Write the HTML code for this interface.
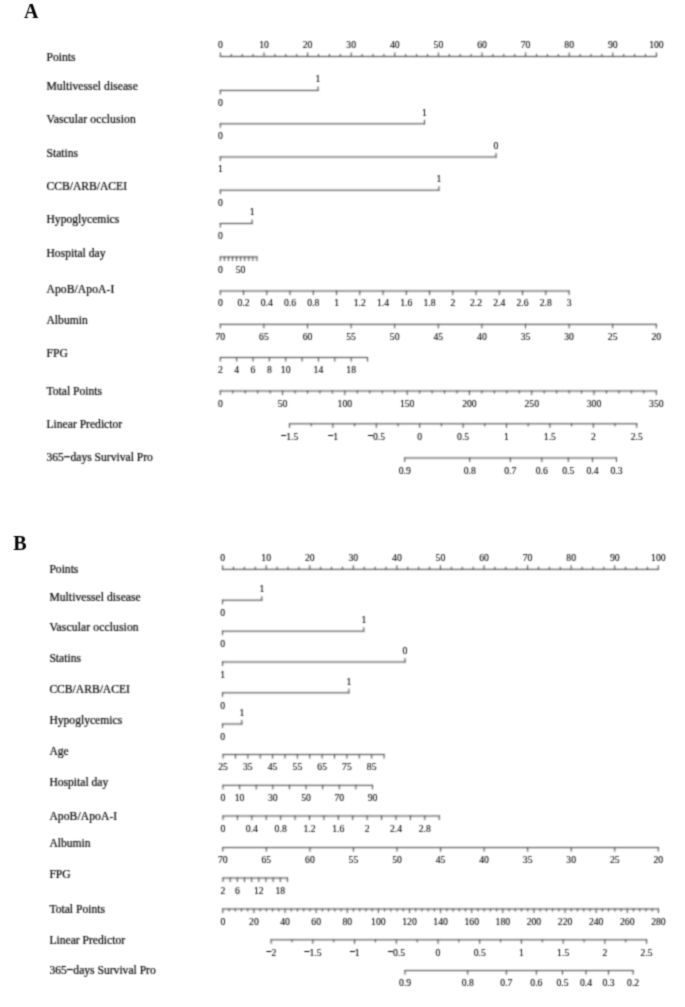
<!DOCTYPE html>
<html><head><meta charset="utf-8"><title>Nomogram</title>
<style>
html,body{margin:0;padding:0;background:#fff;}
body{width:685px;height:1007px;overflow:hidden;}
svg{display:block;}
#w{width:685px;height:1007px;}
line{stroke:#3a3a3a;stroke-width:1.0;stroke-linecap:square;}
text{font-family:"Liberation Serif",serif;fill:#000;}
.l{font-size:11.6px;stroke:#000;stroke-width:0.2px;}
.n{font-size:9.7px;stroke:#000;stroke-width:0.1px;}
.m{stroke:#000;stroke-width:0.45px;}
.mr{fill:#000;}
.h{font-size:20px;font-weight:bold;fill:#000;}
</style></head>
<body><div id="w">
<svg width="685" height="1007" viewBox="0 0 685 1007">
<defs><filter id="bl" filterUnits="userSpaceOnUse" x="0" y="0" width="685" height="1007"><feConvolveMatrix order="5" kernelMatrix="0.00087 0.00695 0.01388 0.00695 0.00087 0.00695 0.05540 0.11068 0.05540 0.00695 0.01388 0.11068 0.22111 0.11068 0.01388 0.00695 0.05540 0.11068 0.05540 0.00695 0.00087 0.00695 0.01388 0.00695 0.00087" edgeMode="none" preserveAlpha="false"/></filter><filter id="bl2" filterUnits="userSpaceOnUse" x="0" y="0" width="685" height="1007"><feConvolveMatrix order="5" kernelMatrix="0.00001 0.00042 0.00170 0.00042 0.00001 0.00042 0.02740 0.10988 0.02740 0.00042 0.00170 0.10988 0.44065 0.10988 0.00170 0.00042 0.02740 0.10988 0.02740 0.00042 0.00001 0.00042 0.00170 0.00042 0.00001" edgeMode="none" preserveAlpha="false"/></filter><filter id="bl3" filterUnits="userSpaceOnUse" x="0" y="0" width="685" height="1007"><feConvolveMatrix order="5" kernelMatrix="0.00009 0.00198 0.00548 0.00198 0.00009 0.00198 0.04220 0.11707 0.04220 0.00198 0.00548 0.11707 0.32480 0.11707 0.00548 0.00198 0.04220 0.11707 0.04220 0.00198 0.00009 0.00198 0.00548 0.00198 0.00009" edgeMode="none" preserveAlpha="false"/></filter></defs>
<rect width="685" height="1007" fill="#fff"/>
<g filter="url(#bl)">
<line x1="220.4" y1="56.5" x2="656.4" y2="56.5"/>
<line x1="220.4" y1="56.5" x2="220.4" y2="53"/>
<line x1="264" y1="56.5" x2="264" y2="53"/>
<line x1="307.6" y1="56.5" x2="307.6" y2="53"/>
<line x1="351.2" y1="56.5" x2="351.2" y2="53"/>
<line x1="394.8" y1="56.5" x2="394.8" y2="53"/>
<line x1="438.4" y1="56.5" x2="438.4" y2="53"/>
<line x1="482" y1="56.5" x2="482" y2="53"/>
<line x1="525.6" y1="56.5" x2="525.6" y2="53"/>
<line x1="569.2" y1="56.5" x2="569.2" y2="53"/>
<line x1="612.8" y1="56.5" x2="612.8" y2="53"/>
<line x1="656.4" y1="56.5" x2="656.4" y2="53"/>
<line x1="231.3" y1="56.5" x2="231.3" y2="54.5"/>
<line x1="242.2" y1="56.5" x2="242.2" y2="54.5"/>
<line x1="253.1" y1="56.5" x2="253.1" y2="54.5"/>
<line x1="274.9" y1="56.5" x2="274.9" y2="54.5"/>
<line x1="285.8" y1="56.5" x2="285.8" y2="54.5"/>
<line x1="296.7" y1="56.5" x2="296.7" y2="54.5"/>
<line x1="318.5" y1="56.5" x2="318.5" y2="54.5"/>
<line x1="329.4" y1="56.5" x2="329.4" y2="54.5"/>
<line x1="340.3" y1="56.5" x2="340.3" y2="54.5"/>
<line x1="362.1" y1="56.5" x2="362.1" y2="54.5"/>
<line x1="373" y1="56.5" x2="373" y2="54.5"/>
<line x1="383.9" y1="56.5" x2="383.9" y2="54.5"/>
<line x1="405.7" y1="56.5" x2="405.7" y2="54.5"/>
<line x1="416.6" y1="56.5" x2="416.6" y2="54.5"/>
<line x1="427.5" y1="56.5" x2="427.5" y2="54.5"/>
<line x1="449.3" y1="56.5" x2="449.3" y2="54.5"/>
<line x1="460.2" y1="56.5" x2="460.2" y2="54.5"/>
<line x1="471.1" y1="56.5" x2="471.1" y2="54.5"/>
<line x1="492.9" y1="56.5" x2="492.9" y2="54.5"/>
<line x1="503.8" y1="56.5" x2="503.8" y2="54.5"/>
<line x1="514.7" y1="56.5" x2="514.7" y2="54.5"/>
<line x1="536.5" y1="56.5" x2="536.5" y2="54.5"/>
<line x1="547.4" y1="56.5" x2="547.4" y2="54.5"/>
<line x1="558.3" y1="56.5" x2="558.3" y2="54.5"/>
<line x1="580.1" y1="56.5" x2="580.1" y2="54.5"/>
<line x1="591" y1="56.5" x2="591" y2="54.5"/>
<line x1="601.9" y1="56.5" x2="601.9" y2="54.5"/>
<line x1="623.7" y1="56.5" x2="623.7" y2="54.5"/>
<line x1="634.6" y1="56.5" x2="634.6" y2="54.5"/>
<line x1="645.5" y1="56.5" x2="645.5" y2="54.5"/>
<line x1="220.3" y1="90.4" x2="318" y2="90.4"/>
<line x1="220.3" y1="90.4" x2="220.3" y2="93.9"/>
<line x1="318" y1="90.4" x2="318" y2="86.9"/>
<line x1="220.3" y1="123.8" x2="424.5" y2="123.8"/>
<line x1="220.3" y1="123.8" x2="220.3" y2="127.3"/>
<line x1="424.5" y1="123.8" x2="424.5" y2="120.3"/>
<line x1="220.3" y1="157" x2="496" y2="157"/>
<line x1="220.3" y1="157" x2="220.3" y2="160.5"/>
<line x1="496" y1="157" x2="496" y2="153.5"/>
<line x1="220.3" y1="190.2" x2="438.9" y2="190.2"/>
<line x1="220.3" y1="190.2" x2="220.3" y2="193.7"/>
<line x1="438.9" y1="190.2" x2="438.9" y2="186.7"/>
<line x1="220.3" y1="223.5" x2="252.1" y2="223.5"/>
<line x1="220.3" y1="223.5" x2="220.3" y2="227"/>
<line x1="252.1" y1="223.5" x2="252.1" y2="220"/>
<line x1="220.3" y1="257" x2="256.88" y2="257"/>
<line x1="220.3" y1="257" x2="220.3" y2="260.5"/>
<line x1="224.37" y1="257" x2="224.37" y2="260.5"/>
<line x1="228.43" y1="257" x2="228.43" y2="260.5"/>
<line x1="232.5" y1="257" x2="232.5" y2="260.5"/>
<line x1="236.56" y1="257" x2="236.56" y2="260.5"/>
<line x1="240.62" y1="257" x2="240.62" y2="260.5"/>
<line x1="244.69" y1="257" x2="244.69" y2="260.5"/>
<line x1="248.75" y1="257" x2="248.75" y2="260.5"/>
<line x1="252.82" y1="257" x2="252.82" y2="260.5"/>
<line x1="256.88" y1="257" x2="256.88" y2="260.5"/>
<line x1="220.3" y1="291" x2="569.05" y2="291"/>
<line x1="220.3" y1="291" x2="220.3" y2="294.5"/>
<line x1="243.55" y1="291" x2="243.55" y2="294.5"/>
<line x1="266.8" y1="291" x2="266.8" y2="294.5"/>
<line x1="290.05" y1="291" x2="290.05" y2="294.5"/>
<line x1="313.3" y1="291" x2="313.3" y2="294.5"/>
<line x1="336.55" y1="291" x2="336.55" y2="294.5"/>
<line x1="359.8" y1="291" x2="359.8" y2="294.5"/>
<line x1="383.05" y1="291" x2="383.05" y2="294.5"/>
<line x1="406.3" y1="291" x2="406.3" y2="294.5"/>
<line x1="429.55" y1="291" x2="429.55" y2="294.5"/>
<line x1="452.8" y1="291" x2="452.8" y2="294.5"/>
<line x1="476.05" y1="291" x2="476.05" y2="294.5"/>
<line x1="499.3" y1="291" x2="499.3" y2="294.5"/>
<line x1="522.55" y1="291" x2="522.55" y2="294.5"/>
<line x1="545.8" y1="291" x2="545.8" y2="294.5"/>
<line x1="569.05" y1="291" x2="569.05" y2="294.5"/>
<line x1="220.3" y1="324.3" x2="656.3" y2="324.3"/>
<line x1="656.3" y1="324.3" x2="656.3" y2="327.8"/>
<line x1="612.7" y1="324.3" x2="612.7" y2="327.8"/>
<line x1="569.1" y1="324.3" x2="569.1" y2="327.8"/>
<line x1="525.5" y1="324.3" x2="525.5" y2="327.8"/>
<line x1="481.9" y1="324.3" x2="481.9" y2="327.8"/>
<line x1="438.3" y1="324.3" x2="438.3" y2="327.8"/>
<line x1="394.7" y1="324.3" x2="394.7" y2="327.8"/>
<line x1="351.1" y1="324.3" x2="351.1" y2="327.8"/>
<line x1="307.5" y1="324.3" x2="307.5" y2="327.8"/>
<line x1="263.9" y1="324.3" x2="263.9" y2="327.8"/>
<line x1="220.3" y1="324.3" x2="220.3" y2="327.8"/>
<line x1="220.3" y1="357.5" x2="367.5" y2="357.5"/>
<line x1="220.3" y1="357.5" x2="220.3" y2="361"/>
<line x1="236.66" y1="357.5" x2="236.66" y2="361"/>
<line x1="253.01" y1="357.5" x2="253.01" y2="361"/>
<line x1="269.37" y1="357.5" x2="269.37" y2="361"/>
<line x1="285.72" y1="357.5" x2="285.72" y2="361"/>
<line x1="302.08" y1="357.5" x2="302.08" y2="361"/>
<line x1="318.44" y1="357.5" x2="318.44" y2="361"/>
<line x1="334.79" y1="357.5" x2="334.79" y2="361"/>
<line x1="351.15" y1="357.5" x2="351.15" y2="361"/>
<line x1="367.5" y1="357.5" x2="367.5" y2="361"/>
<line x1="220.3" y1="391" x2="656.3" y2="391"/>
<line x1="220.3" y1="391" x2="220.3" y2="394.5"/>
<line x1="282.59" y1="391" x2="282.59" y2="394.5"/>
<line x1="344.87" y1="391" x2="344.87" y2="394.5"/>
<line x1="407.16" y1="391" x2="407.16" y2="394.5"/>
<line x1="469.44" y1="391" x2="469.44" y2="394.5"/>
<line x1="531.73" y1="391" x2="531.73" y2="394.5"/>
<line x1="594.01" y1="391" x2="594.01" y2="394.5"/>
<line x1="656.3" y1="391" x2="656.3" y2="394.5"/>
<line x1="232.76" y1="391" x2="232.76" y2="393"/>
<line x1="245.21" y1="391" x2="245.21" y2="393"/>
<line x1="257.67" y1="391" x2="257.67" y2="393"/>
<line x1="270.13" y1="391" x2="270.13" y2="393"/>
<line x1="295.04" y1="391" x2="295.04" y2="393"/>
<line x1="307.5" y1="391" x2="307.5" y2="393"/>
<line x1="319.96" y1="391" x2="319.96" y2="393"/>
<line x1="332.41" y1="391" x2="332.41" y2="393"/>
<line x1="357.33" y1="391" x2="357.33" y2="393"/>
<line x1="369.79" y1="391" x2="369.79" y2="393"/>
<line x1="382.24" y1="391" x2="382.24" y2="393"/>
<line x1="394.7" y1="391" x2="394.7" y2="393"/>
<line x1="419.61" y1="391" x2="419.61" y2="393"/>
<line x1="432.07" y1="391" x2="432.07" y2="393"/>
<line x1="444.53" y1="391" x2="444.53" y2="393"/>
<line x1="456.99" y1="391" x2="456.99" y2="393"/>
<line x1="481.9" y1="391" x2="481.9" y2="393"/>
<line x1="494.36" y1="391" x2="494.36" y2="393"/>
<line x1="506.81" y1="391" x2="506.81" y2="393"/>
<line x1="519.27" y1="391" x2="519.27" y2="393"/>
<line x1="544.19" y1="391" x2="544.19" y2="393"/>
<line x1="556.64" y1="391" x2="556.64" y2="393"/>
<line x1="569.1" y1="391" x2="569.1" y2="393"/>
<line x1="581.56" y1="391" x2="581.56" y2="393"/>
<line x1="606.47" y1="391" x2="606.47" y2="393"/>
<line x1="618.93" y1="391" x2="618.93" y2="393"/>
<line x1="631.39" y1="391" x2="631.39" y2="393"/>
<line x1="643.84" y1="391" x2="643.84" y2="393"/>
<line x1="289.5" y1="423.8" x2="636.7" y2="423.8"/>
<line x1="289.5" y1="423.8" x2="289.5" y2="427.3"/>
<line x1="332.9" y1="423.8" x2="332.9" y2="427.3"/>
<line x1="376.3" y1="423.8" x2="376.3" y2="427.3"/>
<line x1="419.7" y1="423.8" x2="419.7" y2="427.3"/>
<line x1="463.1" y1="423.8" x2="463.1" y2="427.3"/>
<line x1="506.5" y1="423.8" x2="506.5" y2="427.3"/>
<line x1="549.9" y1="423.8" x2="549.9" y2="427.3"/>
<line x1="593.3" y1="423.8" x2="593.3" y2="427.3"/>
<line x1="636.7" y1="423.8" x2="636.7" y2="427.3"/>
<line x1="311.2" y1="423.8" x2="311.2" y2="425.8"/>
<line x1="354.6" y1="423.8" x2="354.6" y2="425.8"/>
<line x1="398" y1="423.8" x2="398" y2="425.8"/>
<line x1="441.4" y1="423.8" x2="441.4" y2="425.8"/>
<line x1="484.8" y1="423.8" x2="484.8" y2="425.8"/>
<line x1="528.2" y1="423.8" x2="528.2" y2="425.8"/>
<line x1="571.6" y1="423.8" x2="571.6" y2="425.8"/>
<line x1="615" y1="423.8" x2="615" y2="425.8"/>
<line x1="404.7" y1="458" x2="616.5" y2="458"/>
<line x1="404.7" y1="458" x2="404.7" y2="461.5"/>
<line x1="469.7" y1="458" x2="469.7" y2="461.5"/>
<line x1="510.3" y1="458" x2="510.3" y2="461.5"/>
<line x1="541.8" y1="458" x2="541.8" y2="461.5"/>
<line x1="568.3" y1="458" x2="568.3" y2="461.5"/>
<line x1="592.5" y1="458" x2="592.5" y2="461.5"/>
<line x1="616.5" y1="458" x2="616.5" y2="461.5"/>
<line x1="222.6" y1="569.3" x2="658.3" y2="569.3"/>
<line x1="222.6" y1="569.3" x2="222.6" y2="565.8"/>
<line x1="266.17" y1="569.3" x2="266.17" y2="565.8"/>
<line x1="309.74" y1="569.3" x2="309.74" y2="565.8"/>
<line x1="353.31" y1="569.3" x2="353.31" y2="565.8"/>
<line x1="396.88" y1="569.3" x2="396.88" y2="565.8"/>
<line x1="440.45" y1="569.3" x2="440.45" y2="565.8"/>
<line x1="484.02" y1="569.3" x2="484.02" y2="565.8"/>
<line x1="527.59" y1="569.3" x2="527.59" y2="565.8"/>
<line x1="571.16" y1="569.3" x2="571.16" y2="565.8"/>
<line x1="614.73" y1="569.3" x2="614.73" y2="565.8"/>
<line x1="658.3" y1="569.3" x2="658.3" y2="565.8"/>
<line x1="233.49" y1="569.3" x2="233.49" y2="567.3"/>
<line x1="244.38" y1="569.3" x2="244.38" y2="567.3"/>
<line x1="255.28" y1="569.3" x2="255.28" y2="567.3"/>
<line x1="277.06" y1="569.3" x2="277.06" y2="567.3"/>
<line x1="287.95" y1="569.3" x2="287.95" y2="567.3"/>
<line x1="298.85" y1="569.3" x2="298.85" y2="567.3"/>
<line x1="320.63" y1="569.3" x2="320.63" y2="567.3"/>
<line x1="331.52" y1="569.3" x2="331.52" y2="567.3"/>
<line x1="342.42" y1="569.3" x2="342.42" y2="567.3"/>
<line x1="364.2" y1="569.3" x2="364.2" y2="567.3"/>
<line x1="375.1" y1="569.3" x2="375.1" y2="567.3"/>
<line x1="385.99" y1="569.3" x2="385.99" y2="567.3"/>
<line x1="407.77" y1="569.3" x2="407.77" y2="567.3"/>
<line x1="418.66" y1="569.3" x2="418.66" y2="567.3"/>
<line x1="429.56" y1="569.3" x2="429.56" y2="567.3"/>
<line x1="451.34" y1="569.3" x2="451.34" y2="567.3"/>
<line x1="462.24" y1="569.3" x2="462.24" y2="567.3"/>
<line x1="473.13" y1="569.3" x2="473.13" y2="567.3"/>
<line x1="494.91" y1="569.3" x2="494.91" y2="567.3"/>
<line x1="505.81" y1="569.3" x2="505.81" y2="567.3"/>
<line x1="516.7" y1="569.3" x2="516.7" y2="567.3"/>
<line x1="538.48" y1="569.3" x2="538.48" y2="567.3"/>
<line x1="549.38" y1="569.3" x2="549.38" y2="567.3"/>
<line x1="560.27" y1="569.3" x2="560.27" y2="567.3"/>
<line x1="582.05" y1="569.3" x2="582.05" y2="567.3"/>
<line x1="592.95" y1="569.3" x2="592.95" y2="567.3"/>
<line x1="603.84" y1="569.3" x2="603.84" y2="567.3"/>
<line x1="625.62" y1="569.3" x2="625.62" y2="567.3"/>
<line x1="636.51" y1="569.3" x2="636.51" y2="567.3"/>
<line x1="647.41" y1="569.3" x2="647.41" y2="567.3"/>
<line x1="222.6" y1="600.2" x2="261.8" y2="600.2"/>
<line x1="222.6" y1="600.2" x2="222.6" y2="603.7"/>
<line x1="261.8" y1="600.2" x2="261.8" y2="596.7"/>
<line x1="222.6" y1="631.2" x2="363.8" y2="631.2"/>
<line x1="222.6" y1="631.2" x2="222.6" y2="634.7"/>
<line x1="363.8" y1="631.2" x2="363.8" y2="627.7"/>
<line x1="222.6" y1="662" x2="405" y2="662"/>
<line x1="222.6" y1="662" x2="222.6" y2="665.5"/>
<line x1="405" y1="662" x2="405" y2="658.5"/>
<line x1="222.6" y1="692.8" x2="348.9" y2="692.8"/>
<line x1="222.6" y1="692.8" x2="222.6" y2="696.3"/>
<line x1="348.9" y1="692.8" x2="348.9" y2="689.3"/>
<line x1="222.6" y1="724" x2="241.8" y2="724"/>
<line x1="222.6" y1="724" x2="222.6" y2="727.5"/>
<line x1="241.8" y1="724" x2="241.8" y2="720.5"/>
<line x1="223.1" y1="754.5" x2="384.04" y2="754.5"/>
<line x1="223.1" y1="754.5" x2="223.1" y2="758"/>
<line x1="235.48" y1="754.5" x2="235.48" y2="758"/>
<line x1="247.86" y1="754.5" x2="247.86" y2="758"/>
<line x1="260.24" y1="754.5" x2="260.24" y2="758"/>
<line x1="272.62" y1="754.5" x2="272.62" y2="758"/>
<line x1="285" y1="754.5" x2="285" y2="758"/>
<line x1="297.38" y1="754.5" x2="297.38" y2="758"/>
<line x1="309.76" y1="754.5" x2="309.76" y2="758"/>
<line x1="322.14" y1="754.5" x2="322.14" y2="758"/>
<line x1="334.52" y1="754.5" x2="334.52" y2="758"/>
<line x1="346.9" y1="754.5" x2="346.9" y2="758"/>
<line x1="359.28" y1="754.5" x2="359.28" y2="758"/>
<line x1="371.66" y1="754.5" x2="371.66" y2="758"/>
<line x1="384.04" y1="754.5" x2="384.04" y2="758"/>
<line x1="223" y1="785.3" x2="372.49" y2="785.3"/>
<line x1="223" y1="785.3" x2="223" y2="788.8"/>
<line x1="239.61" y1="785.3" x2="239.61" y2="788.8"/>
<line x1="256.22" y1="785.3" x2="256.22" y2="788.8"/>
<line x1="272.83" y1="785.3" x2="272.83" y2="788.8"/>
<line x1="289.44" y1="785.3" x2="289.44" y2="788.8"/>
<line x1="306.05" y1="785.3" x2="306.05" y2="788.8"/>
<line x1="322.66" y1="785.3" x2="322.66" y2="788.8"/>
<line x1="339.27" y1="785.3" x2="339.27" y2="788.8"/>
<line x1="355.88" y1="785.3" x2="355.88" y2="788.8"/>
<line x1="372.49" y1="785.3" x2="372.49" y2="788.8"/>
<line x1="223" y1="816" x2="439.21" y2="816"/>
<line x1="223" y1="816" x2="223" y2="819.5"/>
<line x1="237.41" y1="816" x2="237.41" y2="819.5"/>
<line x1="251.83" y1="816" x2="251.83" y2="819.5"/>
<line x1="266.24" y1="816" x2="266.24" y2="819.5"/>
<line x1="280.66" y1="816" x2="280.66" y2="819.5"/>
<line x1="295.07" y1="816" x2="295.07" y2="819.5"/>
<line x1="309.48" y1="816" x2="309.48" y2="819.5"/>
<line x1="323.9" y1="816" x2="323.9" y2="819.5"/>
<line x1="338.31" y1="816" x2="338.31" y2="819.5"/>
<line x1="352.73" y1="816" x2="352.73" y2="819.5"/>
<line x1="367.14" y1="816" x2="367.14" y2="819.5"/>
<line x1="381.55" y1="816" x2="381.55" y2="819.5"/>
<line x1="395.97" y1="816" x2="395.97" y2="819.5"/>
<line x1="410.38" y1="816" x2="410.38" y2="819.5"/>
<line x1="424.8" y1="816" x2="424.8" y2="819.5"/>
<line x1="439.21" y1="816" x2="439.21" y2="819.5"/>
<line x1="222.8" y1="847.6" x2="658.3" y2="847.6"/>
<line x1="658.3" y1="847.6" x2="658.3" y2="851.1"/>
<line x1="614.75" y1="847.6" x2="614.75" y2="851.1"/>
<line x1="571.2" y1="847.6" x2="571.2" y2="851.1"/>
<line x1="527.65" y1="847.6" x2="527.65" y2="851.1"/>
<line x1="484.1" y1="847.6" x2="484.1" y2="851.1"/>
<line x1="440.55" y1="847.6" x2="440.55" y2="851.1"/>
<line x1="397" y1="847.6" x2="397" y2="851.1"/>
<line x1="353.45" y1="847.6" x2="353.45" y2="851.1"/>
<line x1="309.9" y1="847.6" x2="309.9" y2="851.1"/>
<line x1="266.35" y1="847.6" x2="266.35" y2="851.1"/>
<line x1="222.8" y1="847.6" x2="222.8" y2="851.1"/>
<line x1="223" y1="878" x2="287.44" y2="878"/>
<line x1="223" y1="878" x2="223" y2="881.5"/>
<line x1="230.16" y1="878" x2="230.16" y2="881.5"/>
<line x1="237.32" y1="878" x2="237.32" y2="881.5"/>
<line x1="244.48" y1="878" x2="244.48" y2="881.5"/>
<line x1="251.64" y1="878" x2="251.64" y2="881.5"/>
<line x1="258.8" y1="878" x2="258.8" y2="881.5"/>
<line x1="265.96" y1="878" x2="265.96" y2="881.5"/>
<line x1="273.12" y1="878" x2="273.12" y2="881.5"/>
<line x1="280.28" y1="878" x2="280.28" y2="881.5"/>
<line x1="287.44" y1="878" x2="287.44" y2="881.5"/>
<line x1="222.8" y1="909" x2="658.4" y2="909"/>
<line x1="222.8" y1="909" x2="222.8" y2="912.5"/>
<line x1="253.91" y1="909" x2="253.91" y2="912.5"/>
<line x1="285.03" y1="909" x2="285.03" y2="912.5"/>
<line x1="316.14" y1="909" x2="316.14" y2="912.5"/>
<line x1="347.26" y1="909" x2="347.26" y2="912.5"/>
<line x1="378.37" y1="909" x2="378.37" y2="912.5"/>
<line x1="409.49" y1="909" x2="409.49" y2="912.5"/>
<line x1="440.6" y1="909" x2="440.6" y2="912.5"/>
<line x1="471.71" y1="909" x2="471.71" y2="912.5"/>
<line x1="502.83" y1="909" x2="502.83" y2="912.5"/>
<line x1="533.94" y1="909" x2="533.94" y2="912.5"/>
<line x1="565.06" y1="909" x2="565.06" y2="912.5"/>
<line x1="596.17" y1="909" x2="596.17" y2="912.5"/>
<line x1="627.29" y1="909" x2="627.29" y2="912.5"/>
<line x1="658.4" y1="909" x2="658.4" y2="912.5"/>
<line x1="229.02" y1="909" x2="229.02" y2="911"/>
<line x1="235.25" y1="909" x2="235.25" y2="911"/>
<line x1="241.47" y1="909" x2="241.47" y2="911"/>
<line x1="247.69" y1="909" x2="247.69" y2="911"/>
<line x1="260.14" y1="909" x2="260.14" y2="911"/>
<line x1="266.36" y1="909" x2="266.36" y2="911"/>
<line x1="272.58" y1="909" x2="272.58" y2="911"/>
<line x1="278.81" y1="909" x2="278.81" y2="911"/>
<line x1="291.25" y1="909" x2="291.25" y2="911"/>
<line x1="297.47" y1="909" x2="297.47" y2="911"/>
<line x1="303.7" y1="909" x2="303.7" y2="911"/>
<line x1="309.92" y1="909" x2="309.92" y2="911"/>
<line x1="322.37" y1="909" x2="322.37" y2="911"/>
<line x1="328.59" y1="909" x2="328.59" y2="911"/>
<line x1="334.81" y1="909" x2="334.81" y2="911"/>
<line x1="341.03" y1="909" x2="341.03" y2="911"/>
<line x1="353.48" y1="909" x2="353.48" y2="911"/>
<line x1="359.7" y1="909" x2="359.7" y2="911"/>
<line x1="365.93" y1="909" x2="365.93" y2="911"/>
<line x1="372.15" y1="909" x2="372.15" y2="911"/>
<line x1="384.59" y1="909" x2="384.59" y2="911"/>
<line x1="390.82" y1="909" x2="390.82" y2="911"/>
<line x1="397.04" y1="909" x2="397.04" y2="911"/>
<line x1="403.26" y1="909" x2="403.26" y2="911"/>
<line x1="415.71" y1="909" x2="415.71" y2="911"/>
<line x1="421.93" y1="909" x2="421.93" y2="911"/>
<line x1="428.15" y1="909" x2="428.15" y2="911"/>
<line x1="434.38" y1="909" x2="434.38" y2="911"/>
<line x1="446.82" y1="909" x2="446.82" y2="911"/>
<line x1="453.05" y1="909" x2="453.05" y2="911"/>
<line x1="459.27" y1="909" x2="459.27" y2="911"/>
<line x1="465.49" y1="909" x2="465.49" y2="911"/>
<line x1="477.94" y1="909" x2="477.94" y2="911"/>
<line x1="484.16" y1="909" x2="484.16" y2="911"/>
<line x1="490.38" y1="909" x2="490.38" y2="911"/>
<line x1="496.61" y1="909" x2="496.61" y2="911"/>
<line x1="509.05" y1="909" x2="509.05" y2="911"/>
<line x1="515.27" y1="909" x2="515.27" y2="911"/>
<line x1="521.5" y1="909" x2="521.5" y2="911"/>
<line x1="527.72" y1="909" x2="527.72" y2="911"/>
<line x1="540.17" y1="909" x2="540.17" y2="911"/>
<line x1="546.39" y1="909" x2="546.39" y2="911"/>
<line x1="552.61" y1="909" x2="552.61" y2="911"/>
<line x1="558.83" y1="909" x2="558.83" y2="911"/>
<line x1="571.28" y1="909" x2="571.28" y2="911"/>
<line x1="577.5" y1="909" x2="577.5" y2="911"/>
<line x1="583.73" y1="909" x2="583.73" y2="911"/>
<line x1="589.95" y1="909" x2="589.95" y2="911"/>
<line x1="602.39" y1="909" x2="602.39" y2="911"/>
<line x1="608.62" y1="909" x2="608.62" y2="911"/>
<line x1="614.84" y1="909" x2="614.84" y2="911"/>
<line x1="621.06" y1="909" x2="621.06" y2="911"/>
<line x1="633.51" y1="909" x2="633.51" y2="911"/>
<line x1="639.73" y1="909" x2="639.73" y2="911"/>
<line x1="645.95" y1="909" x2="645.95" y2="911"/>
<line x1="652.18" y1="909" x2="652.18" y2="911"/>
<line x1="271.12" y1="939.8" x2="646.6" y2="939.8"/>
<line x1="271.12" y1="939.8" x2="271.12" y2="943.3"/>
<line x1="312.84" y1="939.8" x2="312.84" y2="943.3"/>
<line x1="354.56" y1="939.8" x2="354.56" y2="943.3"/>
<line x1="396.28" y1="939.8" x2="396.28" y2="943.3"/>
<line x1="438" y1="939.8" x2="438" y2="943.3"/>
<line x1="479.72" y1="939.8" x2="479.72" y2="943.3"/>
<line x1="521.44" y1="939.8" x2="521.44" y2="943.3"/>
<line x1="563.16" y1="939.8" x2="563.16" y2="943.3"/>
<line x1="604.88" y1="939.8" x2="604.88" y2="943.3"/>
<line x1="646.6" y1="939.8" x2="646.6" y2="943.3"/>
<line x1="291.98" y1="939.8" x2="291.98" y2="941.8"/>
<line x1="333.7" y1="939.8" x2="333.7" y2="941.8"/>
<line x1="375.42" y1="939.8" x2="375.42" y2="941.8"/>
<line x1="417.14" y1="939.8" x2="417.14" y2="941.8"/>
<line x1="458.86" y1="939.8" x2="458.86" y2="941.8"/>
<line x1="500.58" y1="939.8" x2="500.58" y2="941.8"/>
<line x1="542.3" y1="939.8" x2="542.3" y2="941.8"/>
<line x1="584.02" y1="939.8" x2="584.02" y2="941.8"/>
<line x1="625.74" y1="939.8" x2="625.74" y2="941.8"/>
<line x1="405" y1="970.6" x2="633.1" y2="970.6"/>
<line x1="405" y1="970.6" x2="405" y2="974.1"/>
<line x1="467.7" y1="970.6" x2="467.7" y2="974.1"/>
<line x1="506.4" y1="970.6" x2="506.4" y2="974.1"/>
<line x1="536.4" y1="970.6" x2="536.4" y2="974.1"/>
<line x1="562.5" y1="970.6" x2="562.5" y2="974.1"/>
<line x1="586" y1="970.6" x2="586" y2="974.1"/>
<line x1="608.5" y1="970.6" x2="608.5" y2="974.1"/>
<line x1="633.1" y1="970.6" x2="633.1" y2="974.1"/>
</g>
<g filter="url(#bl3)">
<text class="n" transform="translate(220.4 48.2) scale(1 1.1)" text-anchor="middle">0</text>
<text class="n" transform="translate(264 48.2) scale(1 1.1)" text-anchor="middle">10</text>
<text class="n" transform="translate(307.6 48.2) scale(1 1.1)" text-anchor="middle">20</text>
<text class="n" transform="translate(351.2 48.2) scale(1 1.1)" text-anchor="middle">30</text>
<text class="n" transform="translate(394.8 48.2) scale(1 1.1)" text-anchor="middle">40</text>
<text class="n" transform="translate(438.4 48.2) scale(1 1.1)" text-anchor="middle">50</text>
<text class="n" transform="translate(482 48.2) scale(1 1.1)" text-anchor="middle">60</text>
<text class="n" transform="translate(525.6 48.2) scale(1 1.1)" text-anchor="middle">70</text>
<text class="n" transform="translate(569.2 48.2) scale(1 1.1)" text-anchor="middle">80</text>
<text class="n" transform="translate(612.8 48.2) scale(1 1.1)" text-anchor="middle">90</text>
<text class="n" transform="translate(656.4 48.2) scale(1 1.1)" text-anchor="middle">100</text>
<text class="l" x="46.5" y="60.8">Points</text>
<text class="n" transform="translate(220.3 105.9) scale(1 1.1)" text-anchor="middle">0</text>
<text class="n" transform="translate(318 82.1) scale(1 1.1)" text-anchor="middle">1</text>
<text class="l" x="46.5" y="90" textLength="91.33" lengthAdjust="spacing">Multivessel disease</text>
<text class="n" transform="translate(220.3 139.25) scale(1 1.1)" text-anchor="middle">0</text>
<text class="n" transform="translate(424.5 115.5) scale(1 1.1)" text-anchor="middle">1</text>
<text class="l" x="46.5" y="123.2" textLength="89.18" lengthAdjust="spacing">Vascular occlusion</text>
<text class="n" transform="translate(220.3 172.2) scale(1 1.1)" text-anchor="middle">1</text>
<text class="n" transform="translate(496 148.7) scale(1 1.1)" text-anchor="middle">0</text>
<text class="l" x="46.5" y="156.6">Statins</text>
<text class="n" transform="translate(220.3 205.8) scale(1 1.1)" text-anchor="middle">0</text>
<text class="n" transform="translate(438.9 181.9) scale(1 1.1)" text-anchor="middle">1</text>
<text class="l" x="46.5" y="189.9">CCB/ARB/ACEI</text>
<text class="n" transform="translate(220.3 238.8) scale(1 1.1)" text-anchor="middle">0</text>
<text class="n" transform="translate(252.1 215.2) scale(1 1.1)" text-anchor="middle">1</text>
<text class="l" x="46.5" y="223.2">Hypoglycemics</text>
<text class="n" transform="translate(220.3 272.9) scale(1 1.1)" text-anchor="middle">0</text>
<text class="n" transform="translate(240.62 272.9) scale(1 1.1)" text-anchor="middle">50</text>
<text class="l" x="46.5" y="256.7">Hospital day</text>
<text class="n" transform="translate(220.3 306) scale(1 1.1)" text-anchor="middle">0</text>
<text class="n" transform="translate(243.55 306) scale(1 1.1)" text-anchor="middle">0.2</text>
<text class="n" transform="translate(266.8 306) scale(1 1.1)" text-anchor="middle">0.4</text>
<text class="n" transform="translate(290.05 306) scale(1 1.1)" text-anchor="middle">0.6</text>
<text class="n" transform="translate(313.3 306) scale(1 1.1)" text-anchor="middle">0.8</text>
<text class="n" transform="translate(336.55 306) scale(1 1.1)" text-anchor="middle">1</text>
<text class="n" transform="translate(359.8 306) scale(1 1.1)" text-anchor="middle">1.2</text>
<text class="n" transform="translate(383.05 306) scale(1 1.1)" text-anchor="middle">1.4</text>
<text class="n" transform="translate(406.3 306) scale(1 1.1)" text-anchor="middle">1.6</text>
<text class="n" transform="translate(429.55 306) scale(1 1.1)" text-anchor="middle">1.8</text>
<text class="n" transform="translate(452.8 306) scale(1 1.1)" text-anchor="middle">2</text>
<text class="n" transform="translate(476.05 306) scale(1 1.1)" text-anchor="middle">2.2</text>
<text class="n" transform="translate(499.3 306) scale(1 1.1)" text-anchor="middle">2.4</text>
<text class="n" transform="translate(522.55 306) scale(1 1.1)" text-anchor="middle">2.6</text>
<text class="n" transform="translate(545.8 306) scale(1 1.1)" text-anchor="middle">2.8</text>
<text class="n" transform="translate(569.05 306) scale(1 1.1)" text-anchor="middle">3</text>
<text class="l" x="46.5" y="292.9" textLength="67.82" lengthAdjust="spacing">ApoB/ApoA-I</text>
<text class="n" transform="translate(656.3 339.9) scale(1 1.1)" text-anchor="middle">20</text>
<text class="n" transform="translate(612.7 339.9) scale(1 1.1)" text-anchor="middle">25</text>
<text class="n" transform="translate(569.1 339.9) scale(1 1.1)" text-anchor="middle">30</text>
<text class="n" transform="translate(525.5 339.9) scale(1 1.1)" text-anchor="middle">35</text>
<text class="n" transform="translate(481.9 339.9) scale(1 1.1)" text-anchor="middle">40</text>
<text class="n" transform="translate(438.3 339.9) scale(1 1.1)" text-anchor="middle">45</text>
<text class="n" transform="translate(394.7 339.9) scale(1 1.1)" text-anchor="middle">50</text>
<text class="n" transform="translate(351.1 339.9) scale(1 1.1)" text-anchor="middle">55</text>
<text class="n" transform="translate(307.5 339.9) scale(1 1.1)" text-anchor="middle">60</text>
<text class="n" transform="translate(263.9 339.9) scale(1 1.1)" text-anchor="middle">65</text>
<text class="n" transform="translate(220.3 339.9) scale(1 1.1)" text-anchor="middle">70</text>
<text class="l" x="46.5" y="324">Albumin</text>
<text class="n" transform="translate(220.3 373.4) scale(1 1.1)" text-anchor="middle">2</text>
<text class="n" transform="translate(236.66 373.4) scale(1 1.1)" text-anchor="middle">4</text>
<text class="n" transform="translate(253.01 373.4) scale(1 1.1)" text-anchor="middle">6</text>
<text class="n" transform="translate(269.37 373.4) scale(1 1.1)" text-anchor="middle">8</text>
<text class="n" transform="translate(285.72 373.4) scale(1 1.1)" text-anchor="middle">10</text>
<text class="n" transform="translate(318.44 373.4) scale(1 1.1)" text-anchor="middle">14</text>
<text class="n" transform="translate(351.15 373.4) scale(1 1.1)" text-anchor="middle">18</text>
<text class="l" x="46.5" y="357.2">FPG</text>
<text class="n" transform="translate(220.3 406.9) scale(1 1.1)" text-anchor="middle">0</text>
<text class="n" transform="translate(282.59 406.9) scale(1 1.1)" text-anchor="middle">50</text>
<text class="n" transform="translate(344.87 406.9) scale(1 1.1)" text-anchor="middle">100</text>
<text class="n" transform="translate(407.16 406.9) scale(1 1.1)" text-anchor="middle">150</text>
<text class="n" transform="translate(469.44 406.9) scale(1 1.1)" text-anchor="middle">200</text>
<text class="n" transform="translate(531.73 406.9) scale(1 1.1)" text-anchor="middle">250</text>
<text class="n" transform="translate(594.01 406.9) scale(1 1.1)" text-anchor="middle">300</text>
<text class="n" transform="translate(656.3 406.9) scale(1 1.1)" text-anchor="middle">350</text>
<text class="l" x="46.5" y="394.6">Total Points</text>
<text class="n" transform="translate(289.5 440) scale(1 1.1)" text-anchor="middle"><tspan class="m" dy="-0.6">&#8722;</tspan><tspan dy="0.6">1.5</tspan></text>
<text class="n" transform="translate(332.9 440) scale(1 1.1)" text-anchor="middle"><tspan class="m" dy="-0.6">&#8722;</tspan><tspan dy="0.6">1</tspan></text>
<text class="n" transform="translate(376.3 440) scale(1 1.1)" text-anchor="middle"><tspan class="m" dy="-0.6">&#8722;</tspan><tspan dy="0.6">0.5</tspan></text>
<text class="n" transform="translate(419.7 440) scale(1 1.1)" text-anchor="middle">0</text>
<text class="n" transform="translate(463.1 440) scale(1 1.1)" text-anchor="middle">0.5</text>
<text class="n" transform="translate(506.5 440) scale(1 1.1)" text-anchor="middle">1</text>
<text class="n" transform="translate(549.9 440) scale(1 1.1)" text-anchor="middle">1.5</text>
<text class="n" transform="translate(593.3 440) scale(1 1.1)" text-anchor="middle">2</text>
<text class="n" transform="translate(636.7 440) scale(1 1.1)" text-anchor="middle">2.5</text>
<text class="l" x="46.5" y="428.3">Linear Predictor</text>
<text class="n" transform="translate(404.7 473.7) scale(1 1.1)" text-anchor="middle">0.9</text>
<text class="n" transform="translate(469.7 473.7) scale(1 1.1)" text-anchor="middle">0.8</text>
<text class="n" transform="translate(510.3 473.7) scale(1 1.1)" text-anchor="middle">0.7</text>
<text class="n" transform="translate(541.8 473.7) scale(1 1.1)" text-anchor="middle">0.6</text>
<text class="n" transform="translate(568.3 473.7) scale(1 1.1)" text-anchor="middle">0.5</text>
<text class="n" transform="translate(592.5 473.7) scale(1 1.1)" text-anchor="middle">0.4</text>
<text class="n" transform="translate(616.5 473.7) scale(1 1.1)" text-anchor="middle">0.3</text>
<text class="l" x="46.5" y="461">365<tspan fill-opacity="0" stroke="none">&#8722;</tspan>days Survival Pro</text>
<rect class="mr" x="64.1" y="456.1" width="5.8" height="1.2"/>
<text class="n" transform="translate(222.6 561) scale(1 1.1)" text-anchor="middle">0</text>
<text class="n" transform="translate(266.17 561) scale(1 1.1)" text-anchor="middle">10</text>
<text class="n" transform="translate(309.74 561) scale(1 1.1)" text-anchor="middle">20</text>
<text class="n" transform="translate(353.31 561) scale(1 1.1)" text-anchor="middle">30</text>
<text class="n" transform="translate(396.88 561) scale(1 1.1)" text-anchor="middle">40</text>
<text class="n" transform="translate(440.45 561) scale(1 1.1)" text-anchor="middle">50</text>
<text class="n" transform="translate(484.02 561) scale(1 1.1)" text-anchor="middle">60</text>
<text class="n" transform="translate(527.59 561) scale(1 1.1)" text-anchor="middle">70</text>
<text class="n" transform="translate(571.16 561) scale(1 1.1)" text-anchor="middle">80</text>
<text class="n" transform="translate(614.73 561) scale(1 1.1)" text-anchor="middle">90</text>
<text class="n" transform="translate(658.3 561) scale(1 1.1)" text-anchor="middle">100</text>
<text class="l" x="49.4" y="573.4">Points</text>
<text class="n" transform="translate(222.6 615.5) scale(1 1.1)" text-anchor="middle">0</text>
<text class="n" transform="translate(261.8 591.9) scale(1 1.1)" text-anchor="middle">1</text>
<text class="l" x="49.4" y="600.5" textLength="91.33" lengthAdjust="spacing">Multivessel disease</text>
<text class="n" transform="translate(222.6 646.9) scale(1 1.1)" text-anchor="middle">0</text>
<text class="n" transform="translate(363.8 622.9) scale(1 1.1)" text-anchor="middle">1</text>
<text class="l" x="49.4" y="631.1" textLength="89.18" lengthAdjust="spacing">Vascular occlusion</text>
<text class="n" transform="translate(222.6 678) scale(1 1.1)" text-anchor="middle">1</text>
<text class="n" transform="translate(405 653.7) scale(1 1.1)" text-anchor="middle">0</text>
<text class="l" x="49.4" y="662.2">Statins</text>
<text class="n" transform="translate(222.6 708.8) scale(1 1.1)" text-anchor="middle">0</text>
<text class="n" transform="translate(348.9 684.5) scale(1 1.1)" text-anchor="middle">1</text>
<text class="l" x="49.4" y="692.8">CCB/ARB/ACEI</text>
<text class="n" transform="translate(222.6 739.5) scale(1 1.1)" text-anchor="middle">0</text>
<text class="n" transform="translate(241.8 715.7) scale(1 1.1)" text-anchor="middle">1</text>
<text class="l" x="49.4" y="723.7">Hypoglycemics</text>
<text class="n" transform="translate(223.1 770.4) scale(1 1.1)" text-anchor="middle">25</text>
<text class="n" transform="translate(247.86 770.4) scale(1 1.1)" text-anchor="middle">35</text>
<text class="n" transform="translate(272.62 770.4) scale(1 1.1)" text-anchor="middle">45</text>
<text class="n" transform="translate(297.38 770.4) scale(1 1.1)" text-anchor="middle">55</text>
<text class="n" transform="translate(322.14 770.4) scale(1 1.1)" text-anchor="middle">65</text>
<text class="n" transform="translate(346.9 770.4) scale(1 1.1)" text-anchor="middle">75</text>
<text class="n" transform="translate(371.66 770.4) scale(1 1.1)" text-anchor="middle">85</text>
<text class="l" x="49.4" y="754.7">Age</text>
<text class="n" transform="translate(223 800.9) scale(1 1.1)" text-anchor="middle">0</text>
<text class="n" transform="translate(239.61 800.9) scale(1 1.1)" text-anchor="middle">10</text>
<text class="n" transform="translate(272.83 800.9) scale(1 1.1)" text-anchor="middle">30</text>
<text class="n" transform="translate(306.05 800.9) scale(1 1.1)" text-anchor="middle">50</text>
<text class="n" transform="translate(339.27 800.9) scale(1 1.1)" text-anchor="middle">70</text>
<text class="n" transform="translate(372.49 800.9) scale(1 1.1)" text-anchor="middle">90</text>
<text class="l" x="49.4" y="785.7">Hospital day</text>
<text class="n" transform="translate(223 832) scale(1 1.1)" text-anchor="middle">0</text>
<text class="n" transform="translate(251.83 832) scale(1 1.1)" text-anchor="middle">0.4</text>
<text class="n" transform="translate(280.66 832) scale(1 1.1)" text-anchor="middle">0.8</text>
<text class="n" transform="translate(309.48 832) scale(1 1.1)" text-anchor="middle">1.2</text>
<text class="n" transform="translate(338.31 832) scale(1 1.1)" text-anchor="middle">1.6</text>
<text class="n" transform="translate(367.14 832) scale(1 1.1)" text-anchor="middle">2</text>
<text class="n" transform="translate(395.97 832) scale(1 1.1)" text-anchor="middle">2.4</text>
<text class="n" transform="translate(424.8 832) scale(1 1.1)" text-anchor="middle">2.8</text>
<text class="l" x="49.4" y="819.6" textLength="67.82" lengthAdjust="spacing">ApoB/ApoA-I</text>
<text class="n" transform="translate(658.3 862.9) scale(1 1.1)" text-anchor="middle">20</text>
<text class="n" transform="translate(614.75 862.9) scale(1 1.1)" text-anchor="middle">25</text>
<text class="n" transform="translate(571.2 862.9) scale(1 1.1)" text-anchor="middle">30</text>
<text class="n" transform="translate(527.65 862.9) scale(1 1.1)" text-anchor="middle">35</text>
<text class="n" transform="translate(484.1 862.9) scale(1 1.1)" text-anchor="middle">40</text>
<text class="n" transform="translate(440.55 862.9) scale(1 1.1)" text-anchor="middle">45</text>
<text class="n" transform="translate(397 862.9) scale(1 1.1)" text-anchor="middle">50</text>
<text class="n" transform="translate(353.45 862.9) scale(1 1.1)" text-anchor="middle">55</text>
<text class="n" transform="translate(309.9 862.9) scale(1 1.1)" text-anchor="middle">60</text>
<text class="n" transform="translate(266.35 862.9) scale(1 1.1)" text-anchor="middle">65</text>
<text class="n" transform="translate(222.8 862.9) scale(1 1.1)" text-anchor="middle">70</text>
<text class="l" x="49.4" y="847">Albumin</text>
<text class="n" transform="translate(223 893.5) scale(1 1.1)" text-anchor="middle">2</text>
<text class="n" transform="translate(237.32 893.5) scale(1 1.1)" text-anchor="middle">6</text>
<text class="n" transform="translate(258.8 893.5) scale(1 1.1)" text-anchor="middle">12</text>
<text class="n" transform="translate(280.28 893.5) scale(1 1.1)" text-anchor="middle">18</text>
<text class="l" x="49.4" y="878">FPG</text>
<text class="n" transform="translate(222.8 924.6) scale(1 1.1)" text-anchor="middle">0</text>
<text class="n" transform="translate(253.91 924.6) scale(1 1.1)" text-anchor="middle">20</text>
<text class="n" transform="translate(285.03 924.6) scale(1 1.1)" text-anchor="middle">40</text>
<text class="n" transform="translate(316.14 924.6) scale(1 1.1)" text-anchor="middle">60</text>
<text class="n" transform="translate(347.26 924.6) scale(1 1.1)" text-anchor="middle">80</text>
<text class="n" transform="translate(378.37 924.6) scale(1 1.1)" text-anchor="middle">100</text>
<text class="n" transform="translate(409.49 924.6) scale(1 1.1)" text-anchor="middle">120</text>
<text class="n" transform="translate(440.6 924.6) scale(1 1.1)" text-anchor="middle">140</text>
<text class="n" transform="translate(471.71 924.6) scale(1 1.1)" text-anchor="middle">160</text>
<text class="n" transform="translate(502.83 924.6) scale(1 1.1)" text-anchor="middle">180</text>
<text class="n" transform="translate(533.94 924.6) scale(1 1.1)" text-anchor="middle">200</text>
<text class="n" transform="translate(565.06 924.6) scale(1 1.1)" text-anchor="middle">220</text>
<text class="n" transform="translate(596.17 924.6) scale(1 1.1)" text-anchor="middle">240</text>
<text class="n" transform="translate(627.29 924.6) scale(1 1.1)" text-anchor="middle">260</text>
<text class="n" transform="translate(658.4 924.6) scale(1 1.1)" text-anchor="middle">280</text>
<text class="l" x="49.4" y="913">Total Points</text>
<text class="n" transform="translate(271.12 955.8) scale(1 1.1)" text-anchor="middle"><tspan class="m" dy="-0.6">&#8722;</tspan><tspan dy="0.6">2</tspan></text>
<text class="n" transform="translate(312.84 955.8) scale(1 1.1)" text-anchor="middle"><tspan class="m" dy="-0.6">&#8722;</tspan><tspan dy="0.6">1.5</tspan></text>
<text class="n" transform="translate(354.56 955.8) scale(1 1.1)" text-anchor="middle"><tspan class="m" dy="-0.6">&#8722;</tspan><tspan dy="0.6">1</tspan></text>
<text class="n" transform="translate(396.28 955.8) scale(1 1.1)" text-anchor="middle"><tspan class="m" dy="-0.6">&#8722;</tspan><tspan dy="0.6">0.5</tspan></text>
<text class="n" transform="translate(438 955.8) scale(1 1.1)" text-anchor="middle">0</text>
<text class="n" transform="translate(479.72 955.8) scale(1 1.1)" text-anchor="middle">0.5</text>
<text class="n" transform="translate(521.44 955.8) scale(1 1.1)" text-anchor="middle">1</text>
<text class="n" transform="translate(563.16 955.8) scale(1 1.1)" text-anchor="middle">1.5</text>
<text class="n" transform="translate(604.88 955.8) scale(1 1.1)" text-anchor="middle">2</text>
<text class="n" transform="translate(646.6 955.8) scale(1 1.1)" text-anchor="middle">2.5</text>
<text class="l" x="49.4" y="944">Linear Predictor</text>
<text class="n" transform="translate(405 986.1) scale(1 1.1)" text-anchor="middle">0.9</text>
<text class="n" transform="translate(467.7 986.1) scale(1 1.1)" text-anchor="middle">0.8</text>
<text class="n" transform="translate(506.4 986.1) scale(1 1.1)" text-anchor="middle">0.7</text>
<text class="n" transform="translate(536.4 986.1) scale(1 1.1)" text-anchor="middle">0.6</text>
<text class="n" transform="translate(562.5 986.1) scale(1 1.1)" text-anchor="middle">0.5</text>
<text class="n" transform="translate(586 986.1) scale(1 1.1)" text-anchor="middle">0.4</text>
<text class="n" transform="translate(608.5 986.1) scale(1 1.1)" text-anchor="middle">0.3</text>
<text class="n" transform="translate(633.1 986.1) scale(1 1.1)" text-anchor="middle">0.2</text>
<text class="l" x="49.4" y="973.8">365<tspan fill-opacity="0" stroke="none">&#8722;</tspan>days Survival Pro</text>
<rect class="mr" x="67" y="968.9" width="5.8" height="1.2"/>
</g>
<g filter="url(#bl2)">
<text class="h" x="24.0" y="17.6">A</text>
<text class="h" x="13.2" y="549.6">B</text>
</g>
</svg></div>
</body></html>
